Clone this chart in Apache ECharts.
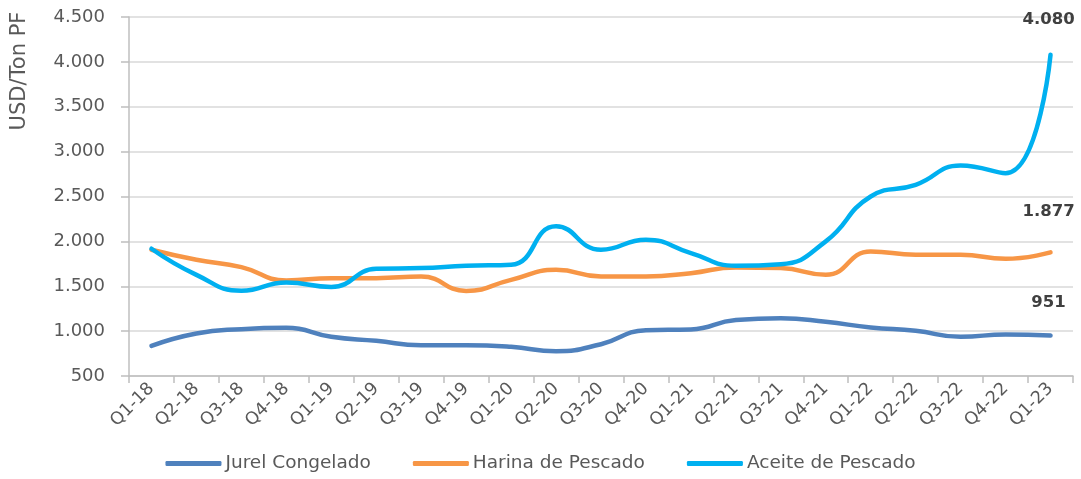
<!DOCTYPE html>
<html>
<head>
<meta charset="utf-8">
<script src="https://cdn.jsdelivr.net/npm/echarts@6/dist/echarts.min.js"></script>
<style>
html,body{margin:0;padding:0;background:#fff;}
#chart{width:1081px;height:479px;}
</style>
</head>
<body>
<div id="chart"></div>
<script>
const categories = ['Q1-18','Q2-18','Q3-18','Q4-18','Q1-19','Q2-19','Q3-19','Q4-19','Q1-20','Q2-20','Q3-20','Q4-20','Q1-21','Q2-21','Q3-21','Q4-21','Q1-22','Q2-22','Q3-22','Q4-22','Q1-23'];
const jurelCongelado = [836, 974, 1022, 1037, 937, 892, 843, 843, 825, 776, 854, 1011, 1019, 1123, 1143, 1104, 1041, 1004, 937, 963, 951];
const harinaPescado = [1907, 1795, 1713, 1564, 1590, 1590, 1608, 1448, 1571, 1683, 1608, 1608, 1646, 1709, 1702, 1628, 1888, 1851, 1851, 1806, 1877];
const aceitePescado = [1918, 1627, 1450, 1541, 1493, 1694, 1702, 1728, 1739, 2168, 1907, 2019, 1870, 1728, 1745, 2000, 2500, 2630, 2846, 2760, 4080];
const yTicks = { min: 500, max: 4500, interval: 500 };
const seriesNames = ['Jurel Congelado','Harina de Pescado','Aceite de Pescado'];

function fmt(v){ return String(Math.round(v)).replace(/\B(?=(\d{3})+(?!\d))/g, '.'); }

const FONT = 'DejaVu Sans';
const GREY = '#595959';

function mkSeries(name, values, color, dist){
  const last = values.length - 1;
  return {
    name: name,
    type: 'line',
    smooth: 0.5,
    symbol: 'circle',
    symbolSize: 0,
    showSymbol: true,
    lineStyle: { width: 4.5, color: color, cap: 'round' },
    itemStyle: { color: color },
    emphasis: { disabled: true },
    data: values.map((v, i) => i === last ? {
      value: v,
      label: {
        show: true, position: 'top', distance: dist, offset: [-2, 0],
        formatter: p => fmt(p.value),
        fontFamily: FONT, fontSize: 16.5, fontWeight: 'bold', color: '#404040'
      }
    } : v)
  };
}

const chart = echarts.init(document.getElementById('chart'), null, {renderer: 'canvas'});
chart.setOption({
  animation: false,
  backgroundColor: '#ffffff',
  grid: { left: 129, right: 8, top: 17, bottom: 103, containLabel: false },
  legend: {
    bottom: 1,
    left: 'center',
    itemWidth: 56,
    itemHeight: 5,
    itemGap: 42,
    icon: 'roundRect',
    textStyle: { fontFamily: FONT, fontSize: 18.5, color: GREY, padding: [0,0,0,-1] },
    data: seriesNames
  },
  xAxis: {
    type: 'category',
    data: categories,
    boundaryGap: true,
    axisLine: { lineStyle: { color: '#bfbfbf', width: 1.5 } },
    axisTick: { show: true, length: 7, lineStyle: { color: '#bfbfbf', width: 1.5 } },
    axisLabel: { rotate: 45, interval: 0, margin: 10, fontFamily: FONT, fontSize: 17.5, color: GREY },
    splitLine: { show: false }
  },
  yAxis: {
    type: 'value',
    min: yTicks.min, max: yTicks.max, interval: yTicks.interval,
    axisLine: { show: true, lineStyle: { color: '#bfbfbf', width: 1.5 } },
    axisTick: { show: true, length: 8, lineStyle: { color: '#bfbfbf', width: 1.5 } },
    axisLabel: { margin: 24, formatter: v => fmt(v), fontFamily: FONT, fontSize: 18, color: GREY },
    splitLine: { lineStyle: { color: '#d9d9d9', width: 1.5 } }
  },
  graphic: [{
    type: 'text',
    x: 20, y: 71,
    rotation: Math.PI / 2,
    style: {
      text: 'USD/Ton PF',
      fontFamily: FONT, fontSize: 21, fill: GREY,
      align: 'center', verticalAlign: 'middle'
    }
  }],
  series: [
    mkSeries(seriesNames[0], jurelCongelado, '#4f81bd', 24),
    mkSeries(seriesNames[1], harinaPescado, '#f79646', 32),
    mkSeries(seriesNames[2], aceitePescado, '#00b0f0', 26)
  ]
});
</script>
</body>
</html>
